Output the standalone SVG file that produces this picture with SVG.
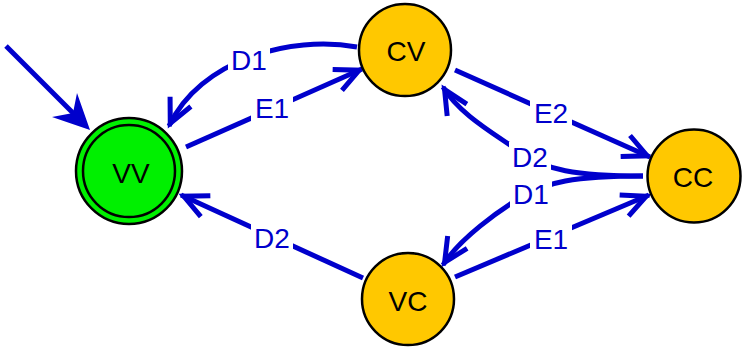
<svg xmlns="http://www.w3.org/2000/svg" width="744" height="349" viewBox="0 0 744 349">
  <style>
    .edge { fill: none; stroke: #0000cc; stroke-width: 5; marker-end: url(#vee); }
    .elabel { font-family: "Liberation Sans", Arial, sans-serif; font-size: 28px; fill: #0000cc; text-anchor: middle; }
    .lbg { fill: #ffffff; }
    .node { stroke: #000000; stroke-width: 2.5; }
    .state { fill: #ffc800; }
    .accept { fill: #00f000; }
    .nlabel { font-family: "Liberation Sans", Arial, sans-serif; font-size: 28px; fill: #000000; text-anchor: middle; }
  </style>
  <defs>
    <marker id="vee" markerUnits="userSpaceOnUse" orient="auto" overflow="visible" markerWidth="40" markerHeight="40">
      <path d="M-27,-11.5 L-3,0 L-27,11.5" fill="none" stroke="#0000cc" stroke-width="5"/>
    </marker>
  </defs>

  <g id="connectors">
    <!-- start arrow into VV -->
    <path d="M6,46 L76,116" fill="none" stroke="#0000cc" stroke-width="5"/>
    <polygon points="90,130 52,117 73,113 77,93" fill="#0000cc"/>

    <!-- VV -> CV (E1) -->
    <path class="edge" d="M186,147 L362,69"/>
    <!-- CV -> VV (D1) -->
    <path class="edge" d="M357,47 C290,35 200,60 169,126"/>
    <!-- CV -> CC (E2) -->
    <path class="edge" d="M455,70 L650,157"/>
    <!-- CC -> CV (D2) -->
    <path class="edge" d="M643,176 C575,176 545,170 520,152 C495,134 460,115 443,87"/>
    <!-- CC -> VC (D1) -->
    <path class="edge" d="M643,176 C575,176 545,182 520,198 C500,210 460,238 443,265"/>
    <!-- VC -> CC (E1) -->
    <path class="edge" d="M455,277 L649,195"/>
    <!-- VC -> VV (D2) -->
    <path class="edge" d="M363,278 L181,195"/>

    <!-- edge labels -->
    <rect class="lbg" x="228" y="44" width="42" height="30"/>
    <text class="elabel" x="249" y="70">D1</text>
    <rect class="lbg" x="251" y="92" width="42" height="30"/>
    <text class="elabel" x="272" y="118">E1</text>
    <rect class="lbg" x="530" y="97" width="42" height="30"/>
    <text class="elabel" x="551" y="123">E2</text>
    <rect class="lbg" x="509" y="142" width="42" height="28"/>
    <text class="elabel" x="530" y="167">D2</text>
    <rect class="lbg" x="510" y="179" width="42" height="29"/>
    <text class="elabel" x="531" y="204">D1</text>
    <rect class="lbg" x="530" y="223" width="42" height="30"/>
    <text class="elabel" x="551" y="249">E1</text>
    <rect class="lbg" x="251" y="222" width="42" height="30"/>
    <text class="elabel" x="272" y="248">D2</text>
  </g>

  <g id="VV">
    <circle class="node accept" cx="129" cy="171" r="53"/>
    <circle class="node" cx="129" cy="171" r="46" fill="none"/>
    <text class="nlabel" x="131" y="183">VV</text>
  </g>
  <g id="CV">
    <circle class="node state" cx="405" cy="50" r="46"/>
    <text class="nlabel" x="406" y="61">CV</text>
  </g>
  <g id="CC">
    <circle class="node state" cx="694" cy="176" r="46.5"/>
    <text class="nlabel" x="693" y="187">CC</text>
  </g>
  <g id="VC">
    <circle class="node state" cx="408" cy="299" r="46"/>
    <text class="nlabel" x="408" y="311">VC</text>
  </g>
</svg>
